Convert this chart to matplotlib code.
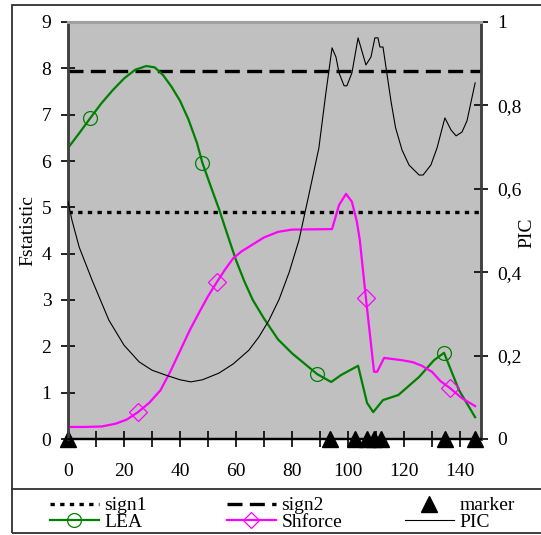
import matplotlib
matplotlib.use("Agg")
import matplotlib.pyplot as plt
from matplotlib.lines import Line2D
from matplotlib.patches import Rectangle
import numpy as np

plt.rcParams['font.family'] = ['Liberation Serif', 'DejaVu Serif']

# ---- data ----
lea_x = [0, 4, 8, 12, 16, 20, 24, 28, 31, 34, 37, 40, 43, 46, 48, 51, 54, 57, 60, 63, 66, 70, 75,
         80, 85, 89, 94, 97.5, 103.6, 106.8, 109, 112.5, 118, 125.4, 130.7, 134.3, 139.6, 145.4]
lea_y = [6.28, 6.6, 6.93, 7.25, 7.53, 7.78, 7.97, 8.05, 8.02, 7.85, 7.6, 7.3, 6.9, 6.4, 5.96, 5.45,
         4.95, 4.4, 3.86, 3.4, 3.0, 2.6, 2.15, 1.85, 1.6, 1.40, 1.23, 1.38, 1.58, 0.78, 0.58, 0.84,
         0.95, 1.34, 1.70, 1.86, 1.06, 0.47]
lea_marks = [2, 14, 25, 35]

shf_x = [0, 6, 12, 17, 21, 25, 29, 33, 36.5, 40, 43.5, 47, 50, 53.2, 56, 59, 62, 66, 70, 75, 80,
         94.3, 96.8, 99.3, 101.4, 103.2, 104.2, 106.4, 109.3, 110.4, 112.9, 119.3, 123, 126.4,
         130, 133, 136.4, 140.7, 145.4]
shf_y = [0.26, 0.26, 0.27, 0.33, 0.42, 0.58, 0.78, 1.05, 1.45, 1.9, 2.35, 2.75, 3.08, 3.39, 3.65,
         3.9, 4.05, 4.2, 4.35, 4.47, 4.52, 4.53, 5.05, 5.29, 5.12, 4.68, 4.3, 3.04, 1.45, 1.45,
         1.75, 1.70, 1.66, 1.58, 1.45, 1.25, 1.10, 0.88, 0.71]
shf_marks = [5, 13, 27, 36]

pic_x = [0, 1.4, 4, 8.6, 14.6, 20, 25.4, 30, 35, 40, 43.9, 48, 53.9, 59, 64.6, 68.2, 71.8, 75.4,
         79, 82.5, 86, 89.6, 92, 94.3, 95.7, 96.8, 98.6, 99.6, 101.4, 103.6, 106.4, 108.2, 109.6,
         110.7, 111.4, 112.5, 115.4, 117, 119.3, 121.8, 125.4, 126.8, 129.6, 131.8, 134.6, 136.8,
         138.6, 140.7, 142.5, 145.4]
pic_y = [0.57, 0.525, 0.46, 0.381, 0.285, 0.225, 0.185, 0.165, 0.153, 0.142, 0.137, 0.142, 0.158,
         0.18, 0.213, 0.245, 0.285, 0.335, 0.40, 0.477, 0.585, 0.698, 0.825, 0.938, 0.916, 0.878,
         0.847, 0.847, 0.878, 0.962, 0.897, 0.916, 0.962, 0.962, 0.94, 0.94, 0.808, 0.746, 0.693,
         0.657, 0.633, 0.633, 0.657, 0.698, 0.770, 0.741, 0.727, 0.736, 0.763, 0.854]

marker_x = [0, 93.6, 102.5, 106.8, 109.3, 111.8, 134.6, 145.4]
marker_y = [0, 0, 0, 0, 0, 0, 0, 0]

sign1 = 4.9
sign2 = 7.95

x_ticks = [0, 20, 40, 60, 80, 100, 120, 140]
y_ticks = [0, 1, 2, 3, 4, 5, 6, 7, 8, 9]
pic_ticks = [0, 0.2, 0.4, 0.6, 0.8, 1.0]
pic_labels = ["0", "0,2", "0,4", "0,6", "0,8", "1"]

# ---- figure ----
W, H = 541, 535
fig = plt.figure(figsize=(W / 100, H / 100), dpi=100)
ax = fig.add_axes([68 / W, 1 - 439 / H, (481 - 68) / W, (439 - 22) / H])
ax.set_facecolor('#C0C0C0')
ax2 = ax.twinx()

FS = 14

ax.axhline(sign1, color='black', lw=2.4, ls=(0, (1.3, 1.6)), zorder=2)
ax.axhline(sign2, color='black', lw=2.4, ls=(0, (4.5, 2.2)), zorder=2)
ax.plot(lea_x, lea_y, color='#008000', lw=1.6, marker='o', markevery=lea_marks,
        markersize=10, markerfacecolor='none', markeredgecolor='#008000', markeredgewidth=0.9, zorder=3)
ax.plot(shf_x, shf_y, color='#FF00FF', lw=1.6, marker='D', markevery=shf_marks,
        markersize=9, markerfacecolor='none', markeredgecolor='#FF00FF', markeredgewidth=0.9, zorder=3)
ax.plot(marker_x, marker_y, ls='none', marker='^', markersize=11, color='black',
        clip_on=False, zorder=5)
ax2.plot(pic_x, pic_y, color='black', lw=0.8, zorder=3)

ax.set_xlim(0, 147.5)
ax.set_ylim(0, 9)
ax2.set_ylim(0, 1)

ax.set_xticks(np.arange(0, 150, 10))
ax.set_xticklabels([str(v) if v in x_ticks else '' for v in range(0, 150, 10)], fontsize=FS)
ax.set_yticks(y_ticks)
ax.set_yticklabels([str(v) for v in y_ticks], fontsize=FS)
ax2.set_yticks(pic_ticks)
ax2.set_yticklabels(pic_labels, fontsize=FS)

ax.tick_params(axis='x', direction='inout', length=11, width=1.2, pad=12)
ax.tick_params(axis='y', direction='inout', length=10, width=1.2, pad=7)
ax2.tick_params(axis='y', direction='inout', length=10, width=1.2, pad=7)

for a in (ax, ax2):
    a.spines['top'].set_color('#A0A0A0')
    a.spines['top'].set_linewidth(2.2)
    a.spines['left'].set_color('#404040')
    a.spines['left'].set_linewidth(1.8)
    a.spines['right'].set_color('#404040')
    a.spines['right'].set_linewidth(1.8)
    a.spines['bottom'].set_color('black')
    a.spines['bottom'].set_linewidth(1.6)

fig.text(28 / W, 1 - 230 / H, 'Fstatistic', fontsize=FS, rotation=90, ha='center', va='center')
fig.text(527 / W, 1 - 233 / H, 'PIC', fontsize=FS, rotation=90, ha='center', va='center')

# outer frame and legend separator
fig.patches.append(Rectangle((12 / W, 1 - 533 / H), (W - 12) / W + 0.01, (533 - 5) / H,
                             transform=fig.transFigure, fill=False, ec='#303030', lw=1.3))
fig.lines.append(Line2D([12 / W, 1.0], [1 - 489 / H, 1 - 489 / H], transform=fig.transFigure,
                        color='#303030', lw=1.3))

cols = [
    ([Line2D([], [], color='black', lw=2.4, ls=(0, (1.3, 1.6))),
      Line2D([], [], color='#008000', lw=1.6, marker='o', markersize=10,
             markerfacecolor='none', markeredgecolor='#008000', markeredgewidth=0.9)],
     ['sign1', 'LEA'], 50),
    ([Line2D([], [], color='black', lw=2.4, ls=(0, (4.5, 2.2))),
      Line2D([], [], color='#FF00FF', lw=1.6, marker='D', markersize=8,
             markerfacecolor='none', markeredgecolor='#FF00FF', markeredgewidth=0.9)],
     ['sign2', 'Shforce'], 227),
    ([Line2D([], [], ls='none', marker='^', markersize=11, color='black'),
      Line2D([], [], color='black', lw=0.8)],
     ['marker', 'PIC'], 405),
]
for hs, ls_, x0 in cols:
    fig.legend(hs, ls_, loc='center left', bbox_to_anchor=(x0 / W, 1 - 514 / H),
               frameon=False, fontsize=FS, handlelength=2.5, handletextpad=0.3,
               labelspacing=-0.05, borderpad=0, borderaxespad=0)

fig.savefig('out.png', dpi=100)
